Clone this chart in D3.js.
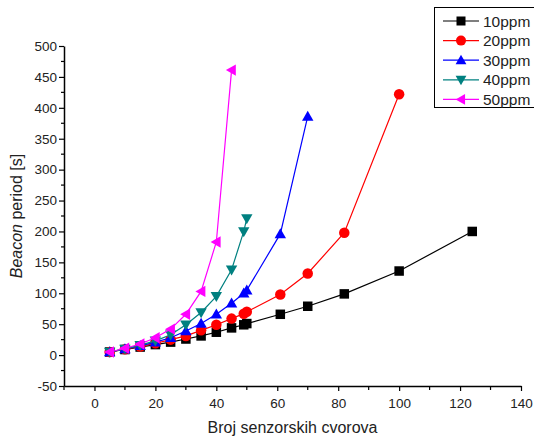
<!DOCTYPE html>
<html>
<head>
<meta charset="utf-8">
<script src="https://cdn.jsdelivr.net/npm/d3@7"></script>
<style>
  body { margin: 0; background: #fff; }
  svg { display: block; font-family: "Liberation Sans", Arial, sans-serif; }
</style>
</head>
<body>
<svg id="chart" width="534" height="441"></svg>
<script>
// ---- data ----
const seriesNames = ['10ppm', '20ppm', '30ppm', '40ppm', '50ppm'];
const seriesColors = ['#000000', '#ff0000', '#0000ff', '#008080', '#ff00ff'];
const seriesShapes = ['square', 'circle', 'up', 'down', 'left'];

const x10 = [5, 10, 15, 20, 25, 30, 35, 40, 45, 49, 50, 61, 70, 82, 100, 124];
const y10 = [5, 9, 13, 17, 21, 26, 31, 37, 44, 49, 51, 66, 79, 99, 136, 200];
const x20 = [5, 10, 15, 20, 25, 30, 35, 40, 45, 49, 50, 61, 70, 82, 100];
const y20 = [5, 9.5, 14, 19, 25, 31, 40, 49, 59, 67, 70, 98, 132, 198, 422];
const x30 = [5, 10, 15, 20, 25, 30, 35, 40, 45, 49, 50, 61, 70];
const y30 = [5, 10, 15, 21, 28, 39, 51, 66, 84, 100, 105, 196, 386];
const x40 = [5, 10, 15, 20, 25, 30, 35, 40, 45, 49, 50];
const y40 = [5, 10, 16, 23, 33, 49, 69, 95, 138, 200, 221];
const x50 = [5, 10, 15, 20, 25, 30, 35, 40, 45];
const y50 = [5, 11, 18, 28, 42, 66, 103, 183, 461];

const xTicks = [0, 20, 40, 60, 80, 100, 120, 140];
const yTicks = [-50, 0, 50, 100, 150, 200, 250, 300, 350, 400, 450, 500];

const seriesX = [x10, x20, x30, x40, x50];
const seriesY = [y10, y20, y30, y40, y50];

// ---- layout ----
const svg = d3.select('#chart');
const m = { l: 64, t: 46, r: 13, b: 55 };
const W = 534, H = 441;
const x = d3.scaleLinear().domain([-10, 140]).range([m.l, W - m.r]);
const y = d3.scaleLinear().domain([-50, 500]).range([H - m.b, m.t]);

const xMinor = d3.range(-10, 141, 10).filter(v => v % 20 !== 0);
const yMinor = d3.range(-25, 500, 50);

const axisColor = '#000';
const textColor = '#222';
const fmt = d => String(d); // plain hyphen for negatives, like the original

// x axis
const gx = svg.append('g').attr('transform', `translate(0,${y(-50)})`);
gx.call(d3.axisBottom(x).tickValues(xTicks).tickSize(5).tickSizeOuter(0).tickFormat(fmt));
gx.select('.domain').attr('stroke', axisColor).attr('stroke-width', 1.5);
gx.selectAll('.tick line').attr('stroke', axisColor).attr('stroke-width', 1.2);
gx.selectAll('.tick text').attr('font-size', 13.5).attr('fill', textColor).attr('dy', '1.05em')
  .attr('font-family', '"Liberation Sans", Arial, sans-serif');
gx.selectAll('.minor').data(xMinor).join('line').attr('class', 'minor')
  .attr('x1', d => x(d)).attr('x2', d => x(d)).attr('y1', 0).attr('y2', 4)
  .attr('stroke', axisColor).attr('stroke-width', 1.2);

// y axis
const gy = svg.append('g').attr('transform', `translate(${x(-10)},0)`);
gy.call(d3.axisLeft(y).tickValues(yTicks).tickSize(5).tickSizeOuter(0).tickFormat(fmt));
gy.select('.domain').attr('stroke', axisColor).attr('stroke-width', 1.5);
gy.selectAll('.tick line').attr('stroke', axisColor).attr('stroke-width', 1.2);
gy.selectAll('.tick text').attr('font-size', 13.5).attr('fill', textColor).attr('x', -7)
  .attr('font-family', '"Liberation Sans", Arial, sans-serif');
gy.selectAll('.minor').data(yMinor).join('line').attr('class', 'minor')
  .attr('y1', d => y(d)).attr('y2', d => y(d)).attr('x1', 0).attr('x2', -3)
  .attr('stroke', axisColor).attr('stroke-width', 1.2);

// axis titles
svg.append('text').attr('x', (x(-10) + x(140)) / 2).attr('y', 433)
  .attr('text-anchor', 'middle').attr('font-size', 16).attr('fill', textColor)
  .text('Broj senzorskih cvorova');
const yt = svg.append('text').attr('transform', `translate(22,${(y(-50) + y(500)) / 2}) rotate(-90)`)
  .attr('text-anchor', 'middle').attr('font-size', 16).attr('fill', textColor);
yt.append('tspan').attr('font-style', 'italic').text('Beacon');
yt.append('tspan').text(' period [s]');

// markers
function marker(sel, shape, color, s) {
  if (shape === 'square') {
    sel.append('rect').attr('x', -s / 2).attr('y', -s / 2).attr('width', s).attr('height', s).attr('fill', color);
  } else if (shape === 'circle') {
    sel.append('circle').attr('r', s / 2 + 0.5).attr('fill', color);
  } else {
    const h = s * 0.6;
    const pts = {
      up: [[0, -h], [h, h * 0.75], [-h, h * 0.75]],
      down: [[0, h], [h, -h * 0.75], [-h, -h * 0.75]],
      left: [[-h, 0], [h * 0.75, -h], [h * 0.75, h]]
    }[shape];
    sel.append('path').attr('d', d3.line()(pts) + 'Z').attr('fill', color);
  }
}

const line = d3.line().x(d => x(d[0])).y(d => y(d[1]));

seriesNames.forEach((name, i) => {
  const pts = seriesX[i].map((v, j) => [v, seriesY[i][j]]);
  const g = svg.append('g');
  g.append('path').datum(pts).attr('d', line)
    .attr('fill', 'none').attr('stroke', seriesColors[i]).attr('stroke-width', 1.2);
  pts.forEach(p => {
    const mk = g.append('g').attr('transform', `translate(${x(p[0])},${y(p[1])})`);
    marker(mk, seriesShapes[i], seriesColors[i], 9.5);
  });
});

// legend
const lg = svg.append('g');
lg.append('rect').attr('x', 434.5).attr('y', 7.5).attr('width', 110).attr('height', 100)
  .attr('fill', '#fff').attr('stroke', '#000').attr('stroke-width', 1);
seriesNames.forEach((name, i) => {
  const cy = 21 + i * 19.6;
  lg.append('line').attr('x1', 443).attr('x2', 479).attr('y1', cy).attr('y2', cy)
    .attr('stroke', seriesColors[i]).attr('stroke-width', 1.2);
  const mk = lg.append('g').attr('transform', `translate(461,${cy})`);
  marker(mk, seriesShapes[i], seriesColors[i], 9);
  lg.append('text').attr('x', 483).attr('y', cy + 5.5).attr('font-size', 15.5).attr('fill', textColor).text(name);
});
</script>
</body>
</html>
